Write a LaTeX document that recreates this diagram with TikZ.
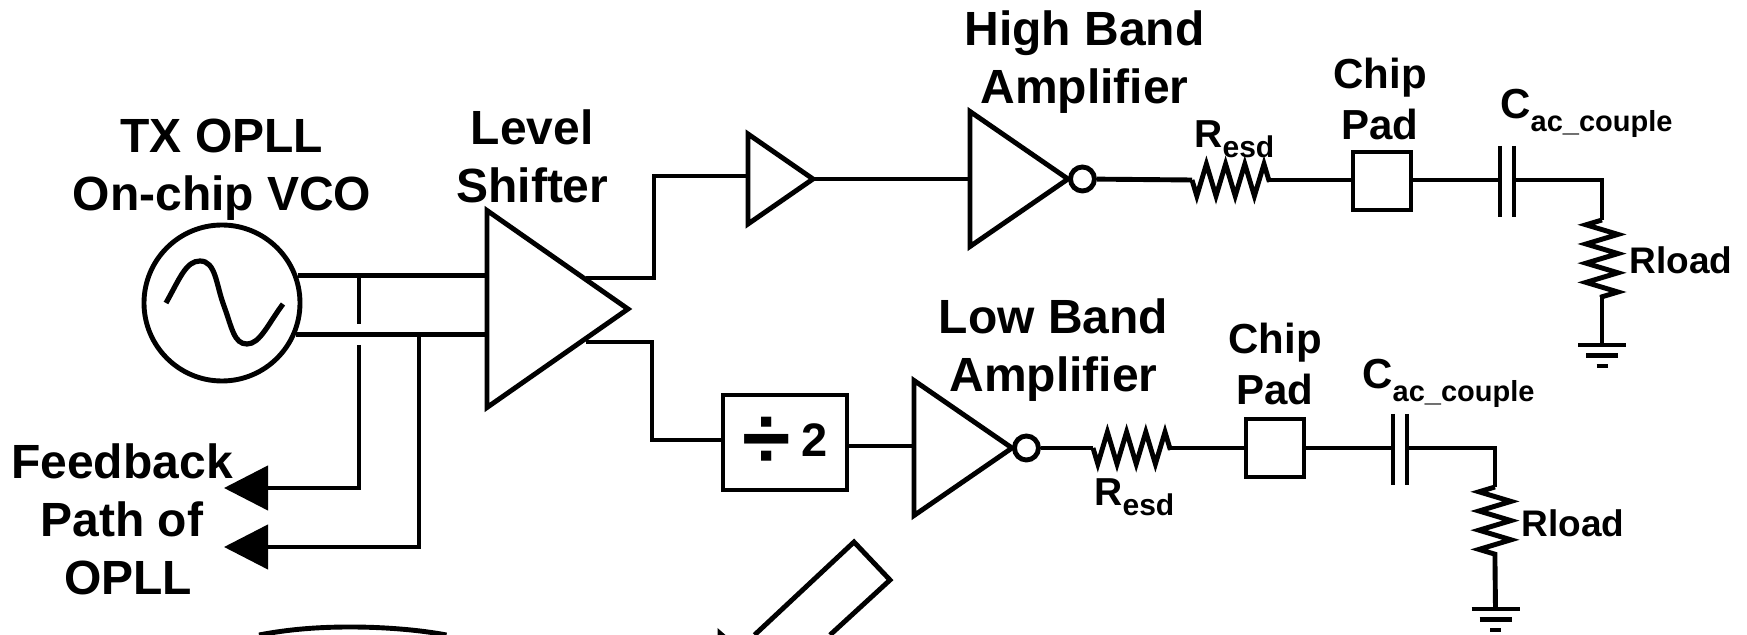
\documentclass[tikz,border=0pt]{standalone}
\usepackage{fontspec}
\setmainfont{Liberation Sans}
\usetikzlibrary{arrows.meta,positioning,calc,shapes.geometric,decorations.pathmorphing}

\tikzset{
  wire/.style={line width=2.45pt, line join=miter},
  thinwire/.style={line width=2.2pt},
  amp/.style={draw, wire, isosceles triangle, isosceles triangle stretches, shape border rotate=0, inner sep=0pt, outer sep=0pt},
  bubble/.style={draw, wire, circle, inner sep=0pt, minimum size=12pt},
  padbox/.style={draw, wire, rectangle, inner sep=0pt, minimum size=29pt},
  res/.style={wire, decorate, decoration={zigzag, mirror, segment length=9.6pt, amplitude=8pt}},
  fbarrow/.style={thinwire, -{Triangle[length=22pt, width=22pt]}},
  biglabel/.style={align=center, inner sep=0pt, font=\bfseries\fontsize{24}{29}\selectfont},
  chiplabel/.style={align=center, inner sep=0pt, font=\bfseries\fontsize{21}{25.5}\selectfont},
  loadlabel/.style={inner sep=0pt, font=\bfseries\fontsize{18.5}{22}\selectfont},
}
\newcommand{\subname}[5]{\bfseries\fontsize{#3}{#3}\selectfont #1\raisebox{-#5pt}{\fontsize{#4}{#4}\selectfont #2}}
\newcommand{\gndsym}[1]{\draw[wire] (#1) ++(-24,0) -- ++(48,0) (#1) ++(-16,10.5) -- ++(32,0) (#1) ++(-5.5,21) -- ++(11,0);}
\newcommand{\capsym}[2]{%
  \coordinate (#1) at (#2);
  \coordinate (#1l) at ($(#1)+(-7,0)$);
  \coordinate (#1r) at ($(#1)+(7,0)$);
  \draw[wire] ($(#1l)+(0,-34)$) -- ($(#1l)+(0,37)$) ($(#1r)+(0,-34)$) -- ($(#1r)+(0,37)$);}

\begin{document}
\begin{tikzpicture}[x=0.5pt, y=-0.5pt]
    \useasboundingbox (0,0) rectangle (1747,635);

    % oscillator and level shifter
    \node[draw, wire, circle, inner sep=0pt, minimum size=78pt] (vco) at (222,303) {};
    \draw[line width=2.6pt] (166,303) .. controls (180,278) and (186,261) .. (200,261)
      .. controls (216,261) and (216,285) .. (224,306) .. controls (232,328) and (234,344) .. (247,344)
      .. controls (260,344) and (268,324) .. (283,304);
    \node[amp, minimum width=98.5pt, minimum height=70.5pt, anchor=lower side] (ls) at (487,309) {};
    \node[biglabel, above=1pt of vco] (vcolab) {TX OPLL\\On-chip VCO};
    \node[biglabel, above=21.5pt of ls, xshift=-3pt] (lslab) {Level\\Shifter};

    \draw[wire] (vco.20) -- (vco.20 -| ls.lower side);
    \draw[wire] (vco.-23) -- (vco.-23 -| ls.lower side);

    % feedback taps
    \coordinate (tapa) at (359,276);
    \coordinate (tapb) at (359,324);
    \coordinate (tapc) at (359,345);
    \coordinate (tapd) at (419,334);
    \coordinate (fba) at (224,488);
    \coordinate (fbb) at (224,547);
    \draw[thinwire] (tapa) -- (tapb);
    \draw[fbarrow] (tapc) |- (fba);
    \draw[fbarrow] (tapd) |- (fbb);
    \node[biglabel] (fblab) at (122,519) {Feedback\\Path of\\\hspace*{6pt}OPLL};

    % high band branch
    \coordinate (lsu) at (586,278);
    \coordinate (bufin) at (654,176);
    \node[amp, minimum width=45pt, minimum height=32.5pt, anchor=lower side] (buf) at (748,179) {};
    \node[amp, minimum width=67.5pt, minimum height=49pt, anchor=lower side] (hamp) at (970,179) {};
    \node[bubble, right=0pt of hamp.apex] (hbub) {};
    \draw[wire] (lsu) -| (bufin) -- (bufin -| buf.lower side);
    \draw[wire] (buf.apex) -- (hamp.lower side);
    \node[biglabel, above=25.5pt of hbub, xshift=1pt] (hlab) {High Band\\Amplifier};
    \coordinate (rha) at (1192,180);
    \coordinate (rhb) at (1269,180);
    \node[padbox] (hpad) at (1382,181) {};
    \node[chiplabel, above=4.5pt of hpad, xshift=-1pt] (hpadlab) {Chip\\Pad};
    \capsym{hcap}{1507,180}
    \coordinate (hload) at (1602,220);
    \coordinate (hloadb) at (1602,297);
    \coordinate (hgnd) at (1602,345);
    \draw[wire] (hbub) -- (rha);
    \draw[res] (rha) -- (rhb);
    \draw[wire] (rhb) -- (rhb -| hpad.west);
    \draw[wire] (hcapl -| hpad.east) -- (hcapl);
    \draw[wire] (hcapr) -| (hload);
    \draw[res] (hload) -- (hloadb);
    \draw[wire] (hloadb) -- (hgnd);
    \gndsym{hgnd}
    \node[anchor=base west, inner sep=0pt] (hres) at ($(rha)+(2,-32)$) {\subname{R}{esd}{19.5}{15}{5}};
    \node[anchor=base west, inner sep=0pt] (hcaplab) at ($(hcap)+(-7,-61)$) {\subname{C}{ac\_couple}{21}{14.5}{6.5}};
    \node[loadlabel, anchor=west] (hrload) at (1629,260) {Rload};

    % low band branch
    \coordinate (lsl) at (586,342);
    \coordinate (dvin) at (652,440);
    \node[draw, wire, rectangle, inner sep=0pt, minimum width=62pt, minimum height=47.5pt] (divide) at (785,442.5)
      {\bfseries\fontsize{23.5}{28.5}\selectfont\raisebox{-6pt}{\fontsize{44}{44}\selectfont ÷}\hspace{5.5pt}2\hspace{3.4pt}};
    \node[amp, minimum width=67.5pt, minimum height=49pt, anchor=lower side] (lamp) at (914,448) {};
    \node[bubble, right=0pt of lamp.apex] (lbub) {};
    \draw[wire] (lsl) -| (dvin) -- (dvin -| divide.west);
    \draw[wire] (divide.east |- 0,446) -- (lamp.lower side |- 0,446);
    \node[biglabel, above=16pt of lbub, xshift=13.5pt] (llab) {Low Band\\Amplifier};
    \coordinate (rla) at (1093,448);
    \coordinate (rlb) at (1170,448);
    \node[padbox] (lpad) at (1275,448) {};
    \node[chiplabel, above=5.5pt of lpad] (lpadlab) {Chip\\Pad};
    \capsym{lcap}{1400,448}
    \coordinate (lload) at (1495,487);
    \coordinate (lloadb) at (1495,563);
    \coordinate (lgnd) at (1495.5,609);
    \draw[wire] (lbub) -- (rla);
    \draw[res] (rla) -- (rlb);
    \draw[wire] (rlb) -- (lpad);
    \draw[wire] (lpad) -- (lcapl);
    \draw[wire] (lcapr) -| (lload);
    \draw[res] (lload) -- (lloadb);
    \draw[wire] (lloadb) -- (lgnd);
    \gndsym{lgnd}
    \node[anchor=base west, inner sep=0pt] (lres) at ($(rla)+(1,58)$) {\subname{R}{esd}{19.5}{15}{5}};
    \node[anchor=base west, inner sep=0pt] (lcaplab) at ($(lcap)+(-38,-59)$) {\subname{C}{ac\_couple}{21}{14.5}{6.5}};
    \node[loadlabel, anchor=west] (lrload) at (1521,523) {Rload};

    % cropped shapes along the lower edge
    \draw[wire] (259,635) .. controls (290,629) and (320,627) .. (350,627) .. controls (385,627) and (420,630) .. (446.5,635);
    \draw[wire] (754.5,635) -- (854,542) -- (890,580) -- (830,635);
    \fill (717.5,628) -- (725.5,635) -- (717.5,635) -- cycle;
  \end{tikzpicture}
\end{document}
